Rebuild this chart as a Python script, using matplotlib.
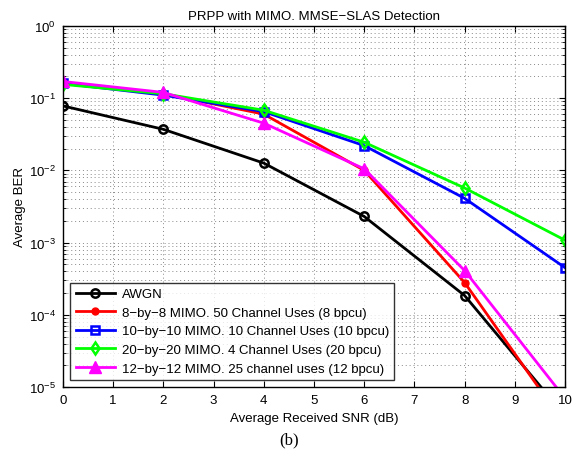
import matplotlib
matplotlib.use("Agg")
import matplotlib.pyplot as plt
from matplotlib.ticker import LogLocator, NullFormatter, MultipleLocator

snr = [0, 2, 4, 6, 8, 10]
awgn = [0.078, 0.037, 0.0126, 2.3e-3, 1.85e-4, 4e-6]
mimo8 = [0.16, 0.115, 0.060, 0.0100, 2.8e-4, 3e-6]
mimo10 = [0.16, 0.110, 0.065, 0.022, 4.1e-3, 4.5e-4]
mimo20 = [0.155, 0.115, 0.068, 0.0245, 5.7e-3, 1.08e-3]
mimo12 = [0.17, 0.120, 0.045, 0.0105, 4.1e-4, 7e-6]

labels = ["AWGN",
          "8\u2212by\u22128 MIMO. 50 Channel Uses (8 bpcu)",
          "10\u2212by\u221210 MIMO. 10 Channel Uses (10 bpcu)",
          "20\u2212by\u221220 MIMO. 4 Channel Uses (20 bpcu)",
          "12\u2212by\u221212 MIMO. 25 channel uses (12 bpcu)"]
title = "PRPP with MIMO. MMSE\u2212SLAS Detection"
xlabel = "Average Received SNR (dB)"
ylabel = "Average BER"

plt.rcParams['font.family'] = ['Liberation Sans', 'DejaVu Sans']

fig = plt.figure(figsize=(5.79, 4.56), dpi=100)
ax = fig.add_axes([0.1088, 0.149, 0.867, 0.792])

series = [
    (awgn, 'black', 'o', dict(mfc='none', mew=1.8, ms=6)),
    (mimo8, 'red', 'o', dict(mfc='red', mew=1, ms=5)),
    (mimo10, 'blue', 's', dict(mfc='none', mew=1.8, ms=5.5)),
    (mimo20, '#00ff00', 'd', dict(mfc='none', mew=1.8, ms=6)),
    (mimo12, 'magenta', '^', dict(mfc='magenta', mew=1, ms=8)),
]
for (vals, c, m, kw), lab in zip(series, labels):
    ax.semilogy(snr, vals, color=c, marker=m, lw=2, mec=c, label=lab, **kw)

ax.set_xlim(0, 10)
ax.set_ylim(1e-5, 1)
ax.xaxis.set_major_locator(MultipleLocator(1))
ax.yaxis.set_major_locator(LogLocator(base=10, numticks=10))
ax.yaxis.set_minor_locator(LogLocator(base=10, subs=range(2, 10), numticks=20))
ax.yaxis.set_minor_formatter(NullFormatter())
ax.grid(True, which='major', ls=(0, (1, 3)), color='#888888', lw=0.7)
ax.grid(True, which='minor', axis='y', ls=(0, (1, 3)), color='#888888', lw=0.7)
ax.tick_params(which='both', direction='in', top=True, right=True, labelsize=9.5)
ax.tick_params(which='major', length=4, pad=5)
ax.tick_params(which='minor', length=2)
for s in ax.spines.values():
    s.set_linewidth(1.0)

ax.set_title(title, fontsize=9.5, pad=5)
ax.set_xlabel(xlabel, fontsize=9.5, labelpad=4)
ax.set_ylabel(ylabel, fontsize=9.5, labelpad=2)

leg = ax.legend(loc='lower left', fontsize=9.5, frameon=True, fancybox=False,
                edgecolor='black', borderpad=0.4, labelspacing=0.48,
                handlelength=3.0, handletextpad=0.5, borderaxespad=0.55)
leg.get_frame().set_linewidth(1.0)

fig.text(0.5, 0.035, "(b)", ha='center', va='center', fontsize=12,
         family=['Liberation Serif', 'DejaVu Serif'])

fig.savefig("out.png", dpi=100)
